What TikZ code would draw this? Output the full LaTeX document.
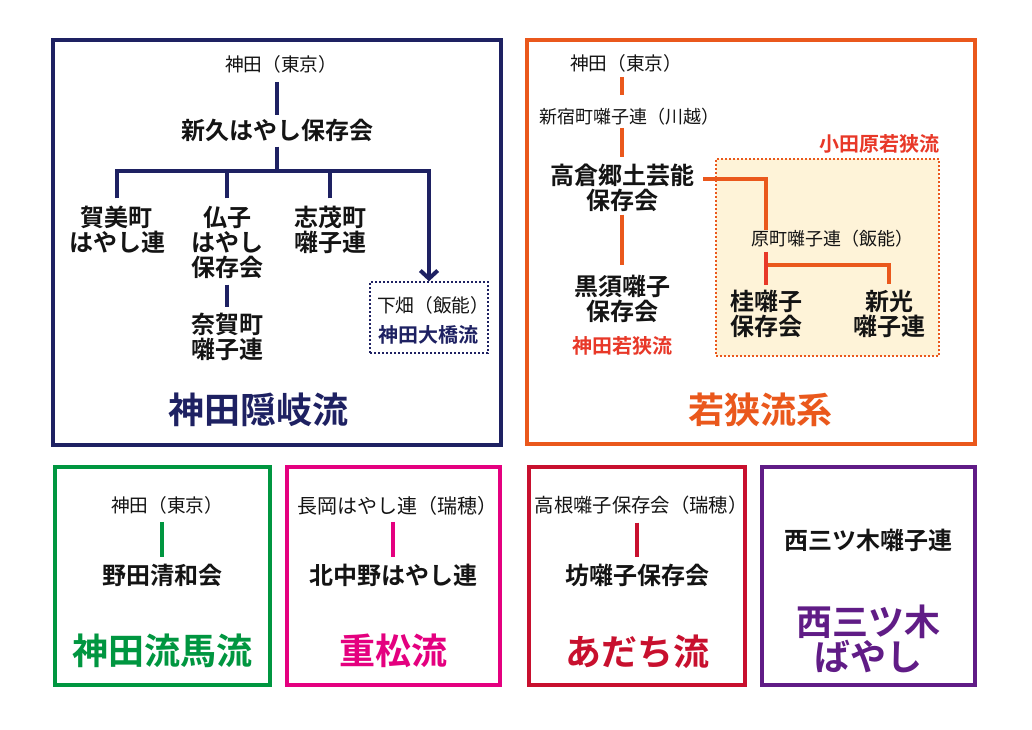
\documentclass[tikz,border=0pt]{standalone}
\usepackage{fontspec}
\newfontfamily\jp{Noto Sans CJK JP}[BoldFont={Noto Sans CJK JP Bold}]
\usetikzlibrary{arrows.meta}
\definecolor{knavy}{RGB}{30,33,98}
\definecolor{korange}{RGB}{234,88,28}
\definecolor{kred}{RGB}{232,56,40}
\definecolor{kcream}{RGB}{254,243,216}
\definecolor{kgreen}{RGB}{0,150,64}
\definecolor{kpink}{RGB}{228,0,127}
\definecolor{kcrim}{RGB}{200,16,46}
\definecolor{kpurple}{RGB}{96,28,134}
\definecolor{ktext}{RGB}{20,20,20}
\newcommand\js{\rule[-0.12em]{0pt}{0.88em}}
\tikzset{
  lbl/.style={inner sep=0pt, outer sep=0pt, align=center, text=ktext},
  sm/.style={lbl, font=\jp\fontsize{13.5pt}{16pt}\selectfont},
  smk/.style={lbl, font=\jp\fontsize{14pt}{16pt}\selectfont},
  smt/.style={lbl, font=\jp\fontsize{14.5pt}{17pt}\selectfont},
  sml/.style={lbl, font=\jp\fontsize{15pt}{17pt}\selectfont},
  bd/.style={lbl, font=\jp\bfseries\fontsize{18pt}{18.75pt}\selectfont},
  md/.style={lbl, font=\jp\bfseries\fontsize{15pt}{18pt}\selectfont},
  ttl/.style={lbl, font=\jp\bfseries\fontsize{27pt}{26.25pt}\selectfont},
  frame/.style={line width=3pt},
  sframe/.style={line width=2.7pt},
  conn/.style={line width=3pt},
  dotbox/.style={dash pattern=on 1.5pt off 1.5pt, line width=1.1pt},
}
\begin{document}
\lineskiplimit=-50pt
\lineskip=0pt
\begin{tikzpicture}[x=0.75pt,y=-0.75pt]
\useasboundingbox[fill=white] (0,0) rectangle (1032,729);

% ---------- frames ----------
\draw[frame,knavy]   (53,40) rectangle (501,445);
\draw[frame,korange] (527,40) rectangle (975,444);
\draw[sframe,kgreen]  (55,467) rectangle (270,685);
\draw[sframe,kpink]   (287,467) rectangle (500,685);
\draw[sframe,kcrim]   (529,467) rectangle (745,685);
\draw[sframe,kpurple] (762,467) rectangle (975,685);

% ---------- top left: Kanda Oki ----------
\node[smk] (tlKanda) at (281,65) {\js 神田（東京）};
\node[bd] (tlShinkyu) at (277,131) {\js 新久はやし保存会};
\coordinate (tlBarR) at (429,171);
\node[bd] (tlKagami) at (117,230.5) {\js 賀美町\\\js はやし連};
\node[bd] (tlBusshi) at (227,243) {\js 仏子\\\js はやし\\\js 保存会};
\node[bd] (tlShigemo) at (330,230.5) {\js 志茂町\\\js 囃子連};
\node[bd] (tlNaga) at (227,337.5) {\js 奈賀町\\\js 囃子連};
\node[draw=knavy, dotbox, inner sep=0pt, minimum width=88.5pt, minimum height=53.25pt] (tlShimoBox) at (429,317.5) {};
\node[smk] (tlShimohata) at (433,306) {\js 下畑（飯能）};
\node[md, text=knavy] (tlOhashi) at (428,335) {\js 神田大橋流};
\node[ttl, text=knavy] (tlTitle) at (258,410) {\js 神田隠岐流};

\draw[conn,knavy,shorten <=5.8pt,shorten >=3pt] (tlKanda.south -| tlShinkyu.north) -- (tlShinkyu.north);
\draw[conn,knavy,shorten <=3pt] (tlShinkyu.south) -- (tlShinkyu.south |- tlBarR);
\draw[conn,knavy,shorten <=6pt,-{Straight Barb[length=6pt,width=13pt]}] (tlKagami.north) |- (tlBarR) -- (tlShimoBox.north);
\draw[conn,knavy,shorten <=6pt] (tlBusshi.north) -- (tlBusshi.north |- tlBarR);
\draw[conn,knavy,shorten <=6pt] (tlShigemo.north) -- (tlShigemo.north |- tlBarR);
\draw[conn,knavy,shorten <=3.75pt,shorten >=4.5pt] (tlBusshi.south) -- (tlNaga.north);

% ---------- top right: Wakasa ----------
\node[draw=korange, dotbox, fill=kcream, inner sep=0pt, minimum width=167.25pt, minimum height=147.75pt] (trCream) at (827.5,257.5) {};
\node[smk] (trKanda) at (626,64) {\js 神田（東京）};
\node[sm] (trShinjuku) at (629,117) {\js 新宿町囃子連（川越）};
\node[bd] (trTakakura) at (622,188.5) {\js 高倉郷土芸能\\\js 保存会};
\node[bd] (trKurosu) at (622,299.5) {\js 黒須囃子\\\js 保存会};
\node[md, text=kred] (trKandaWakasa) at (622,346) {\js 神田若狭流};
\node[md, text=kred] (trOdawara) at (879,144) {\js 小田原若狭流};
\node[sm] (trHaramachi) at (832,239) {\js 原町囃子連（飯能）};
\node[bd] (trKatsura) at (766,314.5) {\js 桂囃子\\\js 保存会};
\node[bd] (trShinko) at (889,314.5) {\js 新光\\\js 囃子連};
\coordinate (trFork) at (766,265);
\node[ttl, text=korange] (trTitle) at (760,410) {\js 若狭流系};

\draw[conn,korange,shorten <=2.8pt,shorten >=9.75pt] (trKanda.south -| trTakakura.north) -- (trShinjuku.north -| trTakakura.north);
\draw[conn,korange,shorten <=1.5pt,shorten >=5.6pt] (trShinjuku.south -| trTakakura.north) -- (trTakakura.north);
\draw[conn,korange,shorten <=1.5pt,shorten >=7.5pt] (trTakakura.south) -- (trKurosu.north);
\draw[conn,korange,shorten <=6.75pt] ([yshift=7.1pt]trTakakura.east) -| (trHaramachi.north -| trKatsura.north);
\draw[conn,korange,shorten >=5pt] (trFork) -| (trShinko.north);
\draw[conn,kred,shorten <=3pt,shorten >=3.75pt] (trHaramachi.south -| trKatsura.north) -- (trKatsura.north);

% ---------- bottom: Kanda ryuba ----------
\node[smk] (bgKanda) at (167,506) {\js 神田（東京）};
\node[bd] (bgNoda) at (162,576) {\js 野田清和会};
\node[ttl, text=kgreen] (bgTitle) at (162,651) {\js 神田流馬流};
\draw[conn,kgreen,shorten <=5pt,shorten >=5.25pt] (bgKanda.south -| bgNoda.north) -- (bgNoda.north);

% ---------- bottom: Shigematsu ----------
\node[sml] (bpNagaoka) at (397,506) {\js 長岡はやし連（瑞穂）};
\node[bd] (bpKita) at (393,576) {\js 北中野はやし連};
\node[ttl, text=kpink] (bpTitle) at (393,651) {\js 重松流};
\draw[conn,kpink,shorten <=4.5pt,shorten >=5.25pt] (bpNagaoka.south -| bpKita.north) -- (bpKita.north);

% ---------- bottom: Adachi ----------
\node[smt] (brTakane) at (641,505) {\js 高根囃子保存会（瑞穂）};
\node[bd] (brBo) at (637,576) {\js 坊囃子保存会};
\node[ttl, text=kcrim] (brTitle) at (637,652) {\js あだち流};
\draw[conn,kcrim,shorten <=6.2pt,shorten >=5.25pt] (brTakane.south -| brBo.north) -- (brBo.north);

% ---------- bottom: Nishimitsugi ----------
\node[bd] (buNishi) at (868,541) {\js 西三ツ木囃子連};
\node[ttl, text=kpurple] (buTitle) at (868,639.5) {\js 西三ツ木\\\js ばやし};
\end{tikzpicture}
\end{document}
